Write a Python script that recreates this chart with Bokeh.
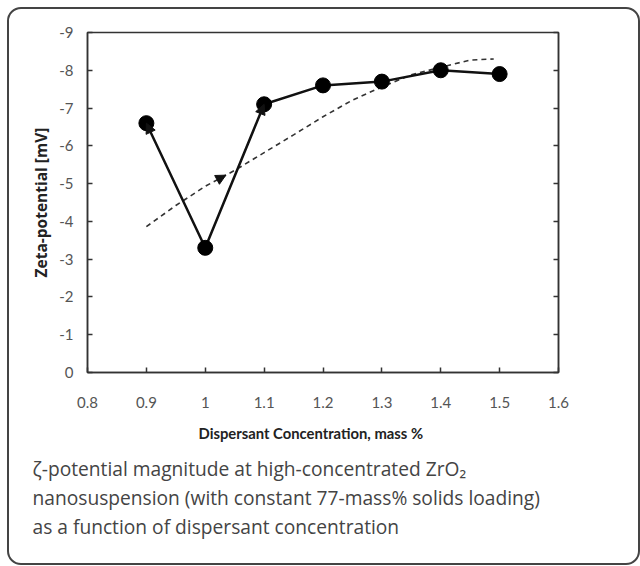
from bokeh.plotting import figure
from bokeh.models import (Range1d, LinearAxis, FixedTicker, CustomJSTickFormatter,
                          Arrow, NormalHead, Title, ColumnDataSource, InlineStyleSheet)
from bokeh.embed import file_html
from bokeh.resources import INLINE
import numpy as np

# Measured zeta-potential vs dispersant concentration
conc = [0.9, 1.0, 1.1, 1.2, 1.3, 1.4, 1.5]
zeta = [-6.6, -3.3, -7.1, -7.6, -7.7, -8.0, -7.9]

# Trend curve (dashed)
trend_x = [0.9, 0.95, 1.0, 1.05, 1.1, 1.15, 1.2, 1.25, 1.3, 1.35, 1.4, 1.45, 1.49]
trend_y = [-3.86, -4.42, -4.93, -5.35, -5.82, -6.29, -6.77, -7.21, -7.56, -7.88, -8.08, -8.27, -8.30]

x_ticks = [0.8, 0.9, 1.0, 1.1, 1.2, 1.3, 1.4, 1.5, 1.6]
y_ticks = [0, -1, -2, -3, -4, -5, -6, -7, -8, -9]

caption = [
    "\u03b6-potential  magnitude at high-concentrated ZrO\u2082",
    "nanosuspension  (with constant 77-mass% solids loading)",
    "as a function of dispersant concentration",
]

W, H = 640, 566
LEFT, TOP, RIGHT, BOTTOM = 87, 32, 82, 194

p = figure(width=W, height=H, output_backend="svg", toolbar_location=None,
           x_range=Range1d(0.8, 1.6), y_range=Range1d(0, -9),
           min_border_left=LEFT, min_border_top=TOP,
           min_border_right=RIGHT, min_border_bottom=BOTTOM,
           background_fill_color="white", border_fill_color="white")
p.grid.visible = False
p.outline_line_color = "#333333"
p.outline_line_width = 1.5

# rounded frame drawn around the whole figure
p.stylesheets = [InlineStyleSheet(css="""
:host::after {
  content: "";
  position: absolute;
  left: 7px; top: 7px; width: 629px; height: 554px;
  border: 2px solid #444444;
  border-radius: 14px;
  pointer-events: none;
}
""")]

tick_font = "Lato"
p.xaxis.ticker = FixedTicker(ticks=x_ticks)
p.xaxis.formatter = CustomJSTickFormatter(code="return (Math.round(tick*10)/10).toString();")
p.yaxis.ticker = FixedTicker(ticks=y_ticks)
p.yaxis.formatter = CustomJSTickFormatter(code="return tick.toString();")
for ax in (p.xaxis[0], p.yaxis[0]):
    ax.axis_line_color = "#333333"
    ax.axis_line_width = 1.5
    ax.major_tick_in = 5
    ax.major_tick_out = 0
    ax.major_tick_line_color = "#333333"
    ax.major_tick_line_width = 1.5
    ax.minor_tick_line_color = None
    ax.major_label_text_font = tick_font
    ax.major_label_text_font_size = "15px"
    ax.major_label_text_color = "#555555"
p.xaxis.major_label_standoff = 24
p.yaxis.major_label_standoff = 14

p.yaxis.axis_label = "Zeta-potential [mV]"
p.yaxis.axis_label_text_font = "Open Sans"
p.yaxis.axis_label_text_font_style = "bold"
p.yaxis.axis_label_text_font_size = "15.5px"
p.yaxis.axis_label_text_color = "#222222"
p.yaxis.axis_label_standoff = 4

# right axis: ticks only
ra = LinearAxis(ticker=FixedTicker(ticks=y_ticks), major_label_text_alpha=0,
                major_tick_in=5, major_tick_out=0, axis_line_color="#333333",
                axis_line_width=1.5, major_tick_line_color="#333333",
                major_tick_line_width=1.5, minor_tick_line_color=None,
                major_label_text_font_size="1px")
p.add_layout(ra, "right")

# trend curve
p.line(trend_x, trend_y, line_color="#333333", line_width=1.6, line_dash="5 4")
ta = 1.0
tb = 1.035
p.add_layout(Arrow(end=NormalHead(size=10, fill_color="#111111", line_color="#111111"),
                   x_start=ta, y_start=float(np.interp(ta, trend_x, trend_y)),
                   x_end=tb, y_end=float(np.interp(tb, trend_x, trend_y)),
                   line_alpha=0))

# measured series
src = ColumnDataSource(dict(x=conc, y=zeta))
p.line("x", "y", source=src, line_color="#111111", line_width=2.5)
for i in (0, 2):
    p.add_layout(Arrow(end=NormalHead(size=10, fill_color="#111111", line_color="#111111"),
                       x_start=conc[1], y_start=zeta[1], x_end=conc[i], y_end=zeta[i],
                       line_alpha=0))
p.scatter("x", "y", source=src, size=15, fill_color="#000000", line_color="#000000")

# x-axis title and caption stacked below the axis
p.add_layout(Title(text="Dispersant Concentration, mass %", align="left", offset=111,
                   text_font="Lato", text_font_style="bold", text_font_size="14.8px",
                   text_color="#222222", standoff=22), "below")
for k, line in enumerate(caption):
    p.add_layout(Title(text=line, align="left", offset=-55, text_font="Open Sans",
                       text_font_style="normal", text_font_size="19.2px",
                       text_color="#444444", standoff=0), "below")

open("out.html", "w").write(file_html(p, INLINE))
